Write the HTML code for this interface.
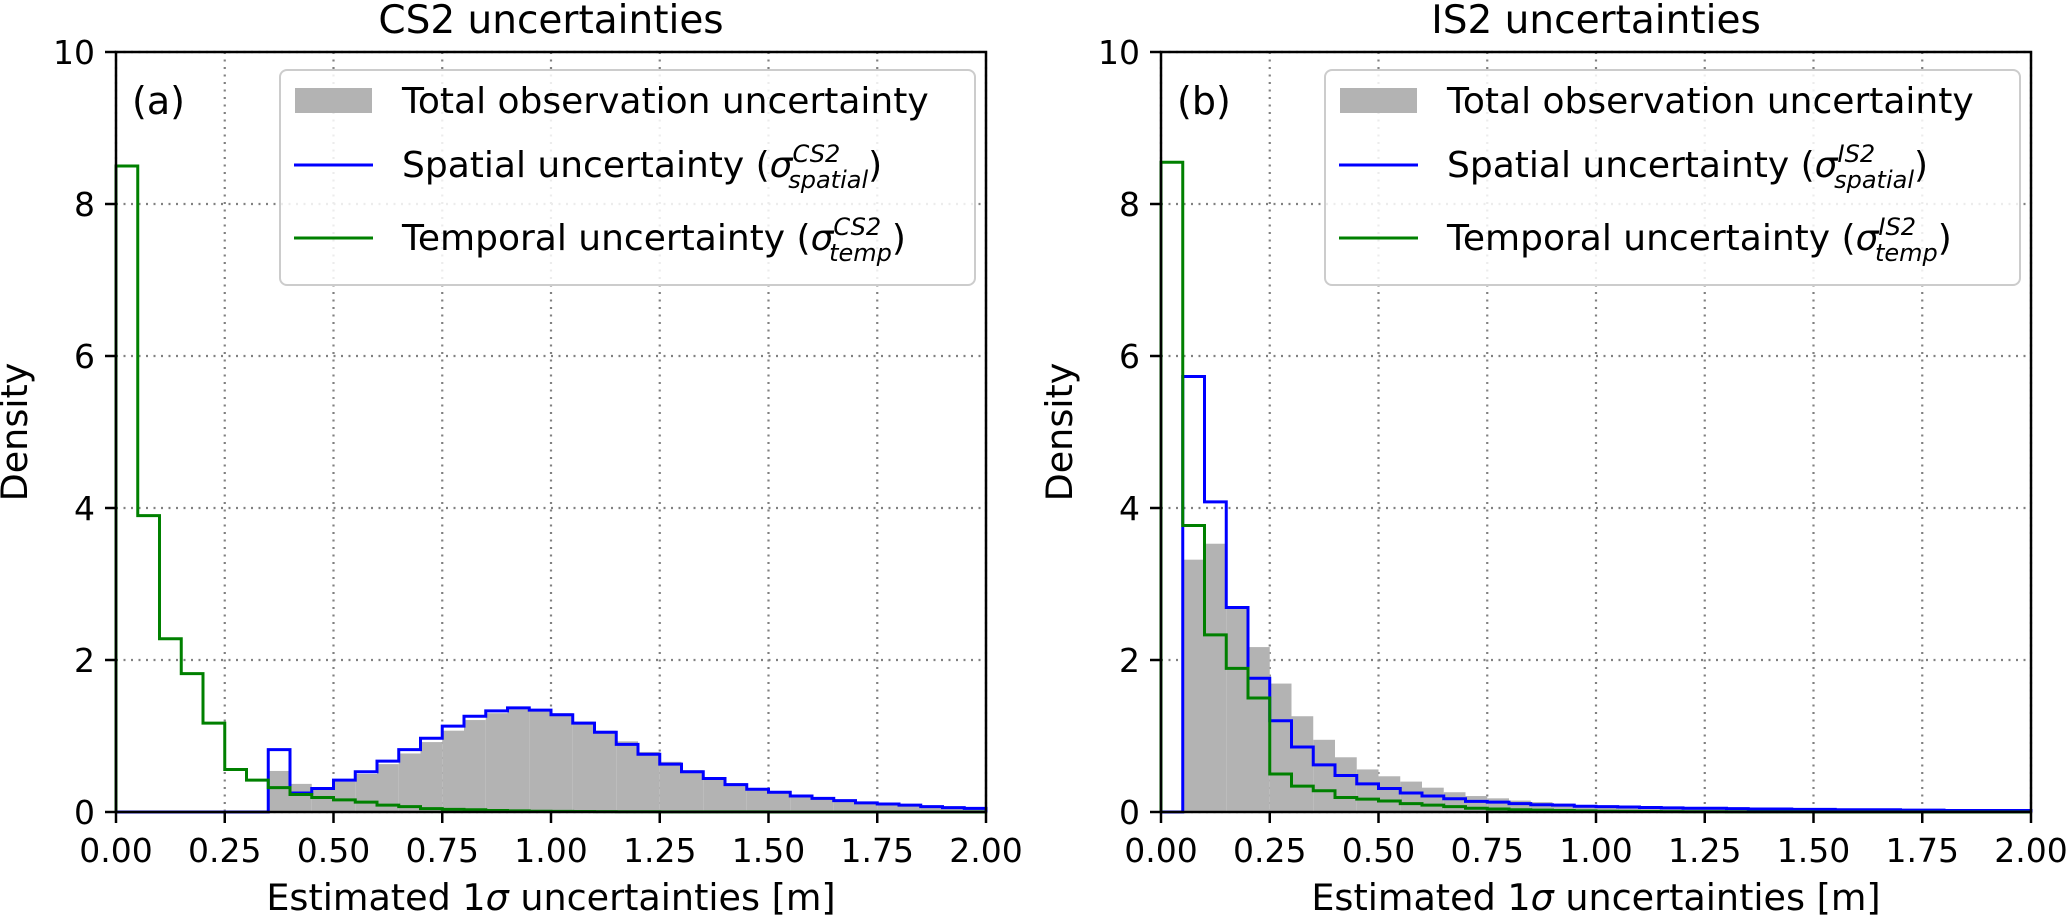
<!DOCTYPE html>
<html><head><meta charset="utf-8"><style>
html,body{margin:0;padding:0;background:#fff;}
svg{display:block;font-family:"DejaVu Sans","Liberation Sans",sans-serif;}
</style></head><body>
<svg id="fig" width="2067" height="920" viewBox="0 0 2067 920" xmlns="http://www.w3.org/2000/svg"></svg>
<script>
// ---- data (bin width 0.05, 0..2.00) ----
const binStart = 0, binWidth = 0.05;
const xTicks = [0, 0.25, 0.5, 0.75, 1.0, 1.25, 1.5, 1.75, 2.0];
const xTickLabels = ["0.00","0.25","0.50","0.75","1.00","1.25","1.50","1.75","2.00"];
const yTicks = [0, 2, 4, 6, 8, 10];
const yTickLabels = ["0","2","4","6","8","10"];

const cs2Total = [0,0,0,0,0,0,0,0.54,0.37,0.29,0.40,0.50,0.63,0.77,0.92,1.07,1.21,1.30,1.35,1.34,1.30,1.19,1.07,0.93,0.79,0.66,0.55,0.46,0.38,0.31,0.26,0.22,0.18,0.15,0.12,0.10,0.085,0.07,0.055,0.045];
const cs2Spatial = [0,0,0,0,0,0,0,0.82,0.25,0.31,0.42,0.53,0.67,0.82,0.97,1.13,1.26,1.33,1.37,1.34,1.28,1.17,1.05,0.89,0.76,0.63,0.53,0.44,0.36,0.30,0.26,0.21,0.18,0.15,0.12,0.105,0.09,0.07,0.057,0.048];
const cs2Temporal = [8.5,3.9,2.28,1.82,1.17,0.56,0.42,0.32,0.23,0.19,0.16,0.13,0.09,0.07,0.045,0.035,0.03,0.02,0.015,0.01,0.008,0.006,0.005,0.004,0.003,0.002,0.002,0.001,0.001,0.001,0,0,0,0,0,0,0,0,0,0];

const is2Total = [0,3.32,3.53,2.69,2.17,1.69,1.26,0.95,0.72,0.56,0.47,0.40,0.32,0.26,0.21,0.18,0.15,0.13,0.11,0.09,0.08,0.07,0.06,0.055,0.05,0.045,0.04,0.035,0.03,0.03,0.025,0.02,0.02,0.02,0.015,0.015,0.01,0.01,0.01,0.01];
const is2Spatial = [0,5.73,4.08,2.69,1.76,1.20,0.855,0.62,0.48,0.37,0.31,0.25,0.21,0.175,0.14,0.13,0.11,0.095,0.09,0.075,0.07,0.065,0.06,0.055,0.05,0.05,0.045,0.04,0.04,0.035,0.035,0.03,0.03,0.03,0.025,0.025,0.02,0.02,0.02,0.02];
const is2Temporal = [8.55,3.77,2.33,1.89,1.50,0.50,0.34,0.28,0.19,0.17,0.145,0.11,0.09,0.07,0.05,0.04,0.03,0.025,0.02,0.015,0.01,0.008,0.006,0.005,0.004,0.003,0.002,0.002,0.001,0.001,0,0,0,0,0,0,0,0,0,0];

const NS = "http://www.w3.org/2000/svg";
const svg = document.getElementById("fig");
function mk(tag, attrs, parent) {
  const e = document.createElementNS(NS, tag);
  for (const k in attrs) e.setAttribute(k, attrs[k]);
  (parent || svg).appendChild(e);
  return e;
}

function panel(cfg) {
  const L = cfg.left, R = cfg.left + 870, T = 52, B = 812;
  const sx = v => L + (v - 0) / 2 * (R - L);
  const sy = v => B - v / 10 * (B - T);
  const g = mk("g", {});
  
  

  const grid = mk("g", {stroke:"#808080","stroke-width":2.2,"stroke-dasharray":"2 5.5"}, g);
  
  
  xTicks.forEach(v => mk("line", {x1:sx(v),x2:sx(v),y1:T,y2:B}, grid));
  yTicks.forEach(v => mk("line", {x1:L,x2:R,y1:sy(v),y2:sy(v)}, grid));

  const bars = mk("g", {fill:"#b3b3b3"}, g);
  
  
  cfg.total.forEach((v, i) => {
    if (v <= 0) return;
    const x0 = binStart + i * binWidth;
    const r = mk("rect", {x:sx(x0), y:sy(v), width:sx(x0+binWidth)-sx(x0), height:sy(0)-sy(v)}, bars);
    
    
  });

  function stepPath(vals) {
    let d = "M" + sx(binStart) + "," + sy(0);
    vals.forEach((v, i) => {
      const x0 = binStart + i * binWidth;
      d += " L" + sx(x0) + "," + sy(v) + " L" + sx(x0 + binWidth) + "," + sy(v);
    });
    d += " L" + sx(binStart + vals.length * binWidth) + "," + sy(0);
    return d;
  }
  const sp = mk("path", {d:stepPath(cfg.spatial), fill:"none", stroke:"#0000ff","stroke-width":3}, g);
  
  
  const tp = mk("path", {d:stepPath(cfg.temporal), fill:"none", stroke:"#008000","stroke-width":3}, g);
  
  

  const fr = mk("rect", {x:L, y:T, width:R-L, height:B-T, fill:"none", stroke:"#000","stroke-width":2.5}, g);
  
  

  const xt = mk("g", {"font-size":33, "text-anchor":"middle", fill:"#000"}, g);
  
  
  xTicks.forEach((v, i) => {
    mk("line", {x1:sx(v),x2:sx(v),y1:B,y2:B+11,stroke:"#000","stroke-width":2.5}, xt);
    const t = mk("text", {x:sx(v), y:862}, xt);
    t.textContent = xTickLabels[i];
  });
  const yt = mk("g", {"font-size":33, "text-anchor":"end", fill:"#000"}, g);
  
  
  yTicks.forEach((v, i) => {
    mk("line", {x1:L-11,x2:L,y1:sy(v),y2:sy(v),stroke:"#000","stroke-width":2.5}, yt);
    const t = mk("text", {x:L-21, y:sy(v)+12}, yt);
    t.textContent = yTickLabels[i];
  });

  const title = mk("text", {x:(L+R)/2, y:33, "font-size":39, "text-anchor":"middle"}, g);
  title.textContent = cfg.title;
  
  

  const xl = mk("text", {x:(L+R)/2, y:910, "font-size":36.5, "text-anchor":"middle"}, g);
  xl.innerHTML = 'Estimated 1<tspan font-style="italic">σ</tspan> uncertainties [m]';
  
  

  const yl = mk("text", {x:0, y:0, "font-size":36.5, "text-anchor":"middle", transform:"translate(" + (L-89) + ",432) rotate(-90)"}, g);
  yl.textContent = "Density";
  
  

  const lab = mk("text", {x:L+16, y:114, "font-size":38}, g);
  lab.textContent = cfg.label;
  
  

  const lg = mk("g", {}, g);
  
  
  const lx = L + 164;
  mk("rect", {x:lx, y:70, width:695, height:215, rx:7, fill:"#fff","fill-opacity":0.85, stroke:"#cccccc","stroke-width":2}, lg);
  const p = mk("rect", {x:lx+15, y:88, width:77, height:25, fill:"#b3b3b3"}, lg);
  
  
  mk("line", {x1:lx+14, x2:lx+93, y1:165, y2:165, stroke:"#0000ff","stroke-width":3}, lg);
  mk("line", {x1:lx+14, x2:lx+93, y1:238, y2:238, stroke:"#008000","stroke-width":3}, lg);
  const tx = lx + 122;
  const t1 = mk("text", {x:tx, y:113, "font-size":36}, lg);
  t1.textContent = "Total observation uncertainty";
  
  
  const t2 = mk("text", {x:tx, y:177, "font-size":36}, lg);
  t2.innerHTML = 'Spatial uncertainty (<tspan font-style="italic">σ</tspan><tspan font-style="italic" font-size="24" dy="-15">' + cfg.sat + '</tspan><tspan font-style="italic" font-size="24" dx="-' + cfg.supW + '" dy="26">spatial</tspan><tspan dy="-11">)</tspan>';
  
  
  const t3 = mk("text", {x:tx, y:250, "font-size":36}, lg);
  t3.innerHTML = 'Temporal uncertainty (<tspan font-style="italic">σ</tspan><tspan font-style="italic" font-size="24" dy="-15">' + cfg.sat + '</tspan><tspan font-style="italic" font-size="24" dx="-' + cfg.supW + '" dy="26">temp</tspan><tspan dy="-11">)</tspan>';
  
  
}

panel({id:"cs2", left:116, title:"CS2 uncertainties", label:"(a)", sat:"CS2", supW:52,
  total:cs2Total, spatial:cs2Spatial, temporal:cs2Temporal});
panel({id:"is2", left:1161, title:"IS2 uncertainties", label:"(b)", sat:"IS2", supW:41,
  total:is2Total, spatial:is2Spatial, temporal:is2Temporal});
</script>
</body></html>
